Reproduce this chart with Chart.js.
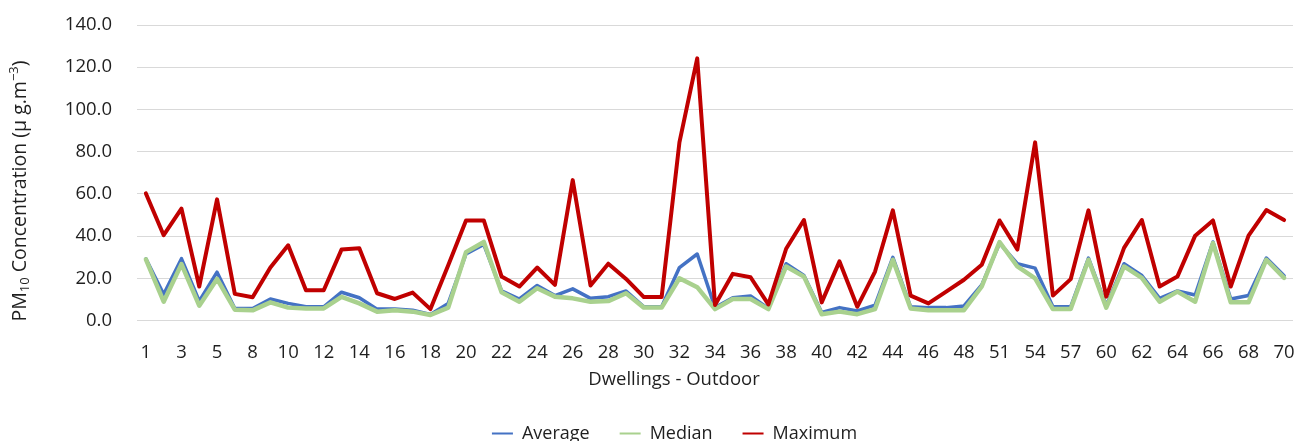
<!DOCTYPE html>
<html>
<head>
<meta charset="utf-8">
<title>PM10 Concentration - Dwellings Outdoor</title>
<script src="https://cdn.jsdelivr.net/npm/chart.js@4.4.1/dist/chart.umd.min.js"></script>
<style>
  html, body { margin: 0; padding: 0; background: #ffffff; }
  #wrap { width: 1299px; height: 441px; position: relative; }
</style>
</head>
<body>
<div id="wrap"><canvas id="chart" width="1299" height="441"></canvas></div>
<script>
// Dwelling numbers (outdoor measurements)
const dwellings = ['1','2','3','4','5','6','8','9','10','11','12','13','14','15','16','17','18','19','20','21',
  '22','23','24','25','26','27','28','29','30','31','32','33','34','35','36','37','38','39','40','41',
  '42','43','44','45','46','47','48','49','51','52','54','55','57','58','60','61','62','63','64','65',
  '66','67','68','69','70'];

// PM10 concentrations (µg/m³)
const average = [29.2, 12.4, 29.3, 9.2, 22.9, 5.7, 5.7, 10.2, 8.1, 6.5, 6.5, 13.4, 10.8, 5.4, 5.4, 4.9, 2.9, 8.1, 31.5, 36.0,
  14.0, 10.2, 16.6, 11.8, 15.0, 10.5, 11.3, 14.0, 6.5, 6.5, 25.1, 31.5, 6.1, 10.8, 11.6, 5.7, 26.9, 21.3, 3.8, 6.1,
  4.5, 7.3, 29.9, 6.5, 6.1, 6.1, 6.9, 16.9, 36.6, 26.9, 24.8, 6.5, 6.5, 29.6, 7.0, 26.9, 21.3, 10.5, 14.0, 12.1,
  37.2, 10.2, 11.8, 29.6, 21.2];

const median = [29.0, 8.9, 26.7, 7.0, 19.7, 5.1, 4.8, 8.6, 6.1, 5.7, 5.7, 11.2, 8.1, 4.2, 4.8, 4.2, 2.6, 6.1, 32.4, 37.2,
  13.4, 8.9, 15.3, 11.3, 10.5, 8.9, 9.2, 12.9, 6.1, 6.1, 20.0, 15.8, 5.4, 10.2, 10.2, 5.4, 25.6, 20.8, 3.0, 4.2,
  3.0, 5.4, 28.8, 5.7, 4.9, 4.8, 4.9, 16.1, 37.2, 25.6, 20.0, 5.4, 5.4, 28.8, 6.1, 25.6, 20.2, 8.9, 13.7, 8.9,
  36.7, 8.6, 8.6, 28.8, 20.2];

const maximum = [60.2, 40.4, 53.0, 16.1, 57.4, 12.6, 11.0, 25.1, 35.6, 14.3, 14.3, 33.6, 34.2, 12.9, 10.2, 13.2, 5.4, 26.2, 47.4, 47.4,
  20.8, 16.1, 25.1, 16.9, 66.5, 16.6, 26.9, 19.7, 11.1, 11.1, 84.4, 124.2, 7.4, 22.1, 20.5, 7.6, 34.0, 47.6, 8.6, 28.0,
  6.5, 23.2, 52.2, 11.8, 8.1, 13.7, 19.3, 26.4, 47.4, 33.6, 84.4, 11.8, 19.6, 52.2, 11.3, 34.4, 47.6, 16.1, 20.8, 40.2,
  47.4, 16.1, 40.2, 52.3, 47.6];

// Y axis tick values
const yTicks = [0, 20, 40, 60, 80, 100, 120, 140];

const FONT = "'Open Sans', 'Noto Sans', sans-serif";
const TEXT = '#1f1f1f';

// Axis titles: rotated y title with subscript/superscript, and the x title
const axisTitlesPlugin = {
  id: 'axisTitles',
  afterDraw(chart) {
    const ctx = chart.ctx;
    const size = 19.5, small = 13;
    const parts = [
      { t: 'PM', f: size, dy: 0 },
      { t: '10', f: small, dy: 5 },
      { t: ' Concentration (\u00B5 g.m', f: size, dy: 0 },
      { t: '\u22123', f: small, dy: -6 },
      { t: ')', f: size, dy: 0 }
    ];
    ctx.save();
    let total = 0;
    parts.forEach(p => { ctx.font = p.f + 'px ' + FONT; p.w = ctx.measureText(p.t).width; total += p.w; });
    ctx.translate(20, 191);
    ctx.rotate(-Math.PI / 2);
    ctx.fillStyle = TEXT;
    ctx.textBaseline = 'middle';
    ctx.textAlign = 'left';
    let x = -total / 2;
    parts.forEach(p => { ctx.font = p.f + 'px ' + FONT; ctx.fillText(p.t, x, p.dy); x += p.w; });
    ctx.restore();

    ctx.save();
    ctx.font = '18.5px ' + FONT;
    ctx.fillStyle = TEXT;
    ctx.textAlign = 'center';
    ctx.textBaseline = 'middle';
    ctx.fillText('Dwellings - Outdoor', 674, 380);
    ctx.restore();
  }
};

new Chart(document.getElementById('chart'), {
  type: 'line',
  data: {
    labels: dwellings,
    datasets: [
      { label: 'Average', data: average, borderColor: '#4472C4', backgroundColor: '#4472C4', borderWidth: 3.5, order: 3 },
      { label: 'Median', data: median, borderColor: '#A9D18E', backgroundColor: '#A9D18E', borderWidth: 4.5, order: 2 },
      { label: 'Maximum', data: maximum, borderColor: '#C00000', backgroundColor: '#C00000', borderWidth: 4, order: 1 }
    ]
  },
  options: {
    responsive: false,
    animation: false,
    elements: {
      line: { tension: 0, borderJoinStyle: 'round', borderCapStyle: 'round', fill: false },
      point: { radius: 0, hoverRadius: 0 }
    },
    layout: { padding: { top: 25, right: 6, left: 56, bottom: -11.5 } },
    scales: {
      x: {
        offset: true,
        afterFit(scale) { scale.height = 74; scale.paddingLeft = 0; scale.paddingRight = 0; },
        grid: { display: false, drawTicks: false },
        border: { display: false },
        ticks: {
          autoSkip: false, maxRotation: 0, minRotation: 0, padding: 21,
          color: TEXT, font: { family: FONT, size: 18.5 },
          callback(value, index) { return index % 2 === 0 ? this.getLabelForValue(value) : ''; }
        },
        title: { display: false }
      },
      y: {
        min: 0, max: 140,
        afterFit(scale) { scale.width = 81; scale.paddingTop = 0; scale.paddingBottom = 0; },
        afterBuildTicks(scale) { scale.ticks = yTicks.map(v => ({ value: v })); },
        grid: { color: '#D9D9D9', lineWidth: 1, drawTicks: false },
        border: { display: false },
        ticks: {
          padding: 25, color: TEXT, font: { family: FONT, size: 18.5 },
          callback: v => v.toFixed(1)
        }
      }
    },
    plugins: {
      tooltip: { enabled: false },
      legend: {
        position: 'bottom',
        labels: {
          boxWidth: 21, boxHeight: 2, padding: 30, color: TEXT,
          font: { family: FONT, size: 18 },
          sort: (a, b) => a.datasetIndex - b.datasetIndex,
          generateLabels(chart) {
            const items = Chart.defaults.plugins.legend.labels.generateLabels(chart);
            items.forEach(it => { it.fillStyle = it.strokeStyle; it.lineWidth = 0; });
            return items;
          }
        }
      }
    }
  },
  plugins: [axisTitlesPlugin]
});
</script>
</body>
</html>
